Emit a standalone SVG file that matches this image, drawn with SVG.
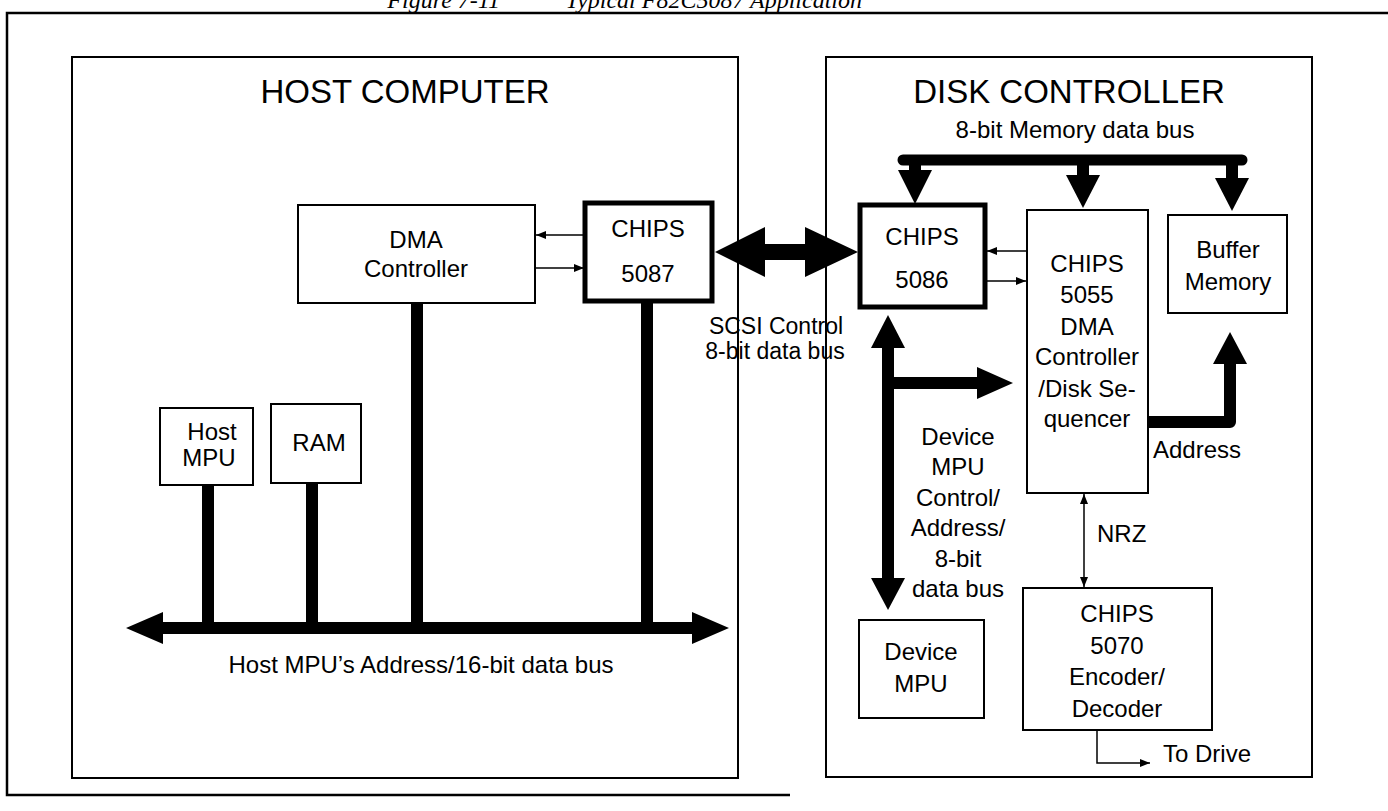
<svg xmlns="http://www.w3.org/2000/svg" width="1388" height="811" viewBox="0 0 1388 811">
<style>
  .bg{fill:#fff}
  .frame{fill:none;stroke:#000;stroke-width:2.5}
  .panel{fill:none;stroke:#000;stroke-width:2}
  .box{fill:#fff;stroke:#000;stroke-width:2}
  .tbox{fill:#fff;stroke:#000;stroke-width:5}
  .t{font-family:"Liberation Sans",Arial,sans-serif;font-size:24px;fill:#000;text-anchor:middle}
  .title{font-family:"Liberation Sans",Arial,sans-serif;font-size:33px;fill:#000;text-anchor:middle}
  .cap{font-family:"Liberation Serif","Times New Roman",serif;font-style:italic;font-size:24px;fill:#000}
  .bar{stroke:#000;stroke-width:12;stroke-linecap:round;fill:none}
  .mbus{stroke:#000;stroke-width:11;stroke-linecap:round;stroke-linejoin:round;fill:none}
  .thin{stroke:#000;stroke-width:1.5;fill:none}
  .solid{fill:#000;stroke:none}
</style>
<defs>
  <marker id="ah" viewBox="0 0 10 8" refX="10" refY="4" markerWidth="10" markerHeight="8" markerUnits="userSpaceOnUse" orient="auto-start-reverse">
    <path d="M0,0 L10,4 L0,8 Z" fill="#000"/>
  </marker>
</defs>
<rect class="bg" x="0" y="0" width="1388" height="811"/>

<g id="caption">
  <text class="cap" x="500" y="8" text-anchor="end">Figure 7-11</text>
  <text class="cap" x="862" y="8" text-anchor="end">Typical F82C5087 Application</text>
</g>

<g id="frame">
  <path class="frame" d="M1388,13 H7 V795 H790"/>
</g>

<g id="host-computer">
  <rect class="panel" x="72" y="57" width="666" height="721"/>
  <text class="title" x="405" y="103">HOST COMPUTER</text>
</g>

<g id="disk-controller">
  <rect class="panel" x="826" y="57" width="486" height="720"/>
  <text class="title" x="1069" y="103">DISK CONTROLLER</text>
</g>

<g id="connectors">
  <!-- host bus -->
  <polygon class="solid" points="126,628 163,612 163,622 692,622 692,612 729,628 692,644 692,634 163,634 163,644"/>
  <line class="bar" x1="208" y1="485" x2="208" y2="628"/>
  <line class="bar" x1="312" y1="483" x2="312" y2="628"/>
  <line class="bar" x1="417" y1="303" x2="417" y2="628"/>
  <line class="bar" x1="647" y1="301" x2="647" y2="628"/>
  <!-- DMA <-> 5087 -->
  <line class="thin" x1="585" y1="235" x2="536" y2="235" marker-end="url(#ah)"/>
  <line class="thin" x1="535" y1="268" x2="584" y2="268" marker-end="url(#ah)"/>
  <!-- SCSI bus -->
  <polygon class="solid" points="715,252 765,227 765,244 805,244 805,227 858,252 805,277 805,260 765,260 765,277"/>
  <!-- memory bus -->
  <line class="mbus" x1="903" y1="160" x2="1242" y2="160"/>
  <line class="bar" x1="915" y1="160" x2="915" y2="172" style="stroke-linecap:butt"/>
  <polygon class="solid" points="898,170 932,170 915,204"/>
  <line class="bar" x1="1083" y1="160" x2="1083" y2="176" style="stroke-linecap:butt"/>
  <polygon class="solid" points="1066,175 1100,175 1083,208"/>
  <line class="bar" x1="1232" y1="160" x2="1232" y2="179" style="stroke-linecap:butt"/>
  <polygon class="solid" points="1215,178 1249,178 1232,211"/>
  <!-- 5086 <-> 5055 -->
  <line class="thin" x1="1027" y1="251" x2="987" y2="251" marker-end="url(#ah)"/>
  <line class="thin" x1="985" y1="281" x2="1026" y2="281" marker-end="url(#ah)"/>
  <!-- device MPU bus -->
  <line class="bar" x1="888" y1="346" x2="888" y2="580" style="stroke-linecap:butt"/>
  <polygon class="solid" points="888,315 905,348 871,348"/>
  <polygon class="solid" points="871,578 905,578 888,610"/>
  <line class="bar" x1="888" y1="383" x2="978" y2="383" style="stroke-linecap:butt"/>
  <polygon class="solid" points="977,367 1013,383 977,399"/>
  <!-- address bus -->
  <path class="mbus" d="M1143,422 H1230 V364" style="stroke-width:12"/>
  <polygon class="solid" points="1230,332 1247,364 1213,364"/>
  <!-- NRZ -->
  <line class="thin" x1="1084" y1="494" x2="1084" y2="587" marker-start="url(#ah)" marker-end="url(#ah)"/>
  <!-- to drive -->
  <path class="thin" d="M1097,730 V763 H1150" marker-end="url(#ah)"/>
</g>

<g id="host-mpu">
  <rect class="box" x="160" y="408" width="93" height="77"/>
  <text class="t" x="212" y="440">Host</text>
  <text class="t" x="209" y="466">MPU</text>
</g>
<g id="ram">
  <rect class="box" x="271" y="404" width="90" height="79"/>
  <text class="t" x="319" y="451">RAM</text>
</g>
<g id="dma-controller">
  <rect class="box" x="298" y="205" width="237" height="98"/>
  <text class="t" x="416" y="248">DMA</text>
  <text class="t" x="416" y="277">Controller</text>
</g>
<g id="chips-5087">
  <rect class="tbox" x="585" y="203" width="127" height="98"/>
  <text class="t" x="648" y="237">CHIPS</text>
  <text class="t" x="648" y="282">5087</text>
</g>
<g id="chips-5086">
  <rect class="tbox" x="860" y="205" width="125" height="102"/>
  <text class="t" x="922" y="245">CHIPS</text>
  <text class="t" x="922" y="288">5086</text>
</g>
<g id="chips-5055">
  <rect class="box" x="1027" y="210" width="121" height="283"/>
  <text class="t" x="1087" y="272">CHIPS</text>
  <text class="t" x="1087" y="303">5055</text>
  <text class="t" x="1087" y="335">DMA</text>
  <text class="t" x="1087" y="365">Controller</text>
  <text class="t" x="1087" y="397">/Disk Se-</text>
  <text class="t" x="1087" y="427">quencer</text>
</g>
<g id="buffer-memory">
  <rect class="box" x="1168" y="215" width="119" height="98"/>
  <text class="t" x="1228" y="258">Buffer</text>
  <text class="t" x="1228" y="290">Memory</text>
</g>
<g id="device-mpu">
  <rect class="box" x="859" y="620" width="125" height="98"/>
  <text class="t" x="921" y="660">Device</text>
  <text class="t" x="921" y="692">MPU</text>
</g>
<g id="chips-5070">
  <rect class="box" x="1023" y="588" width="189" height="142"/>
  <text class="t" x="1117" y="622">CHIPS</text>
  <text class="t" x="1117" y="654">5070</text>
  <text class="t" x="1117" y="685">Encoder/</text>
  <text class="t" x="1117" y="717">Decoder</text>
</g>

<g id="labels">
  <text class="t" x="1075" y="138">8-bit Memory data bus</text>
  <text class="t" x="776" y="334" style="font-size:23px">SCSI Control</text>
  <text class="t" x="775" y="359" style="font-size:23px">8-bit data bus</text>
  <text class="t" x="958" y="445">Device</text>
  <text class="t" x="958" y="475">MPU</text>
  <text class="t" x="958" y="506">Control/</text>
  <text class="t" x="958" y="536">Address/</text>
  <text class="t" x="958" y="567">8-bit</text>
  <text class="t" x="958" y="597">data bus</text>
  <text class="t" x="1153" y="458" style="text-anchor:start">Address</text>
  <text class="t" x="1097" y="542" style="text-anchor:start">NRZ</text>
  <text class="t" x="1163" y="762" style="text-anchor:start">To Drive</text>
  <text class="t" x="421" y="673">Host MPU’s Address/16-bit data bus</text>
</g>
</svg>
